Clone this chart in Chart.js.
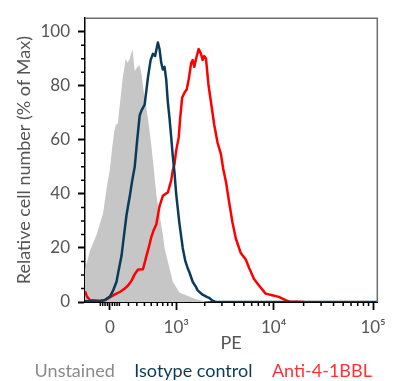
<!DOCTYPE html>
<html>
<head>
<meta charset="utf-8">
<script src="https://cdn.jsdelivr.net/npm/chart.js@4.4.0/dist/chart.umd.min.js"></script>
<style>
  html, body { margin: 0; padding: 0; background: #fff; }
</style>
</head>
<body>
<canvas id="chart" width="393" height="381"></canvas>
<script>
// PE axis is biexponential. x values below are display units on that axis
// (0 = zero signal, 1 unit = 1 decade at the high end).
const seriesNames = ['Unstained', 'Isotype control', 'Anti-4-1BBL']

const unstainedX = [-0.25, -0.2, -0.133, -0.067, -0.033, 0, 0.02, 0.043, 0.06, 0.08, 0.1, 0.13, 0.16, 0.18, 0.2, 0.227, 0.25, 0.277, 0.3, 0.32, 0.34, 0.367, 0.39, 0.417, 0.44, 0.467, 0.5, 0.533, 0.55, 0.583, 0.633, 0.7, 0.767, 0.85, 0.95, 1.05, 2.69]
const unstainedY = [12, 19, 25, 33, 42, 49, 56, 63, 65.5, 66, 73, 83, 90, 88.5, 90, 93.6, 85.5, 87, 87.6, 84, 78, 72, 66, 58, 50, 40, 32, 25, 20, 15, 7.5, 3.5, 2.5, 1.2, 0.3, 0, 0]

const isotypeX = [-0.25, -0.15, -0.1, -0.05, 0, 0.03, 0.067, 0.09, 0.117, 0.14, 0.167, 0.185, 0.2, 0.225, 0.25, 0.275, 0.3, 0.32, 0.35, 0.383, 0.41, 0.433, 0.455, 0.483, 0.5, 0.517, 0.533, 0.55, 0.567, 0.583, 0.6, 0.617, 0.633, 0.65, 0.667, 0.7, 0.733, 0.76, 0.783, 0.8, 0.833, 0.867, 0.883, 0.933, 0.98, 1.0, 1.033, 1.06, 1.2, 2.69]
const isotypeY = [0.3, 0.2, 0.3, 0.7, 2, 4, 7.5, 12, 17, 24, 32, 36, 39, 45, 50, 60, 69, 71, 73, 83, 89.5, 91.8, 91, 96, 93.5, 88.5, 86, 87, 82.3, 74, 68, 61, 54, 48, 40, 29, 20, 15, 12.5, 11, 7.5, 5.5, 4.3, 2.7, 1.8, 1.5, 0.5, 0.1, 0, 0]

const antiX = [-0.25, -0.23, -0.2, -0.1, -0.05, 0, 0.05, 0.1, 0.15, 0.183, 0.22, 0.25, 0.283, 0.333, 0.367, 0.39, 0.417, 0.44, 0.467, 0.5, 0.533, 0.56, 0.583, 0.617, 0.633, 0.65, 0.667, 0.693, 0.707, 0.727, 0.75, 0.773, 0.793, 0.817, 0.833, 0.85, 0.867, 0.893, 0.917, 0.933, 0.95, 0.967, 0.993, 1.017, 1.05, 1.083, 1.117, 1.14, 1.17, 1.195, 1.233, 1.267, 1.317, 1.367, 1.4, 1.45, 1.5, 1.567, 1.633, 1.7, 1.767, 1.8, 1.95]
const antiY = [4, 2, 0.7, 0.5, 0.7, 1.7, 2.8, 3.7, 5, 6.1, 8, 10.3, 12, 12.1, 16.9, 20, 24, 26.5, 28.7, 35.5, 39.3, 40, 40.5, 45, 48.7, 51, 56, 61, 67.9, 75.6, 77.4, 78.6, 82.3, 88.2, 89.5, 87, 90, 93.6, 91.8, 89.5, 91, 90, 80, 74, 65.5, 59, 54.7, 49.3, 44, 38, 29.5, 23.5, 18.1, 15.7, 12.7, 8.5, 6.1, 3.1, 2.5, 1.9, 0.7, 0.2, 0]

// axis ticks, in PE units
const majorTicksPE = [0, 1000, 10000, 100000]
const majorTickLabels = ['0', '10³', '10⁴', '10⁵']
const minorTicksPE = [-100, -75, -50, -25, 25, 50, 75, 100, 200, 300, 400, 500, 600, 700, 800, 900,
  2000, 3000, 4000, 5000, 6000, 7000, 8000, 9000, 20000, 30000, 40000, 50000, 60000, 70000, 80000, 90000]
const yTicks = [0, 20, 40, 60, 80, 100]
const yMinorTicks = [5, 10, 15, 25, 30, 35, 45, 50, 55, 65, 70, 75, 85, 90, 95]

const seriesColors = ['#c6c6c6', '#0b3b5c', '#ff0000']
const legendColors = ['#8a8a8a', '#0b3b5c', '#ff3333']

const biex = v => Math.asinh(v / 450) / Math.LN10

const toPoints = (xs, ys) => xs.map((x, i) => ({ x, y: ys[i] }))

const tickFont = { family: 'Lato', size: 17 }

// top/right frame and the short minor ticks
const frameAndMinorTicks = {
  id: 'frameAndMinorTicks',
  afterDraw(chart) {
    const { ctx, chartArea: a, scales: { x, y } } = chart
    ctx.save()
    ctx.strokeStyle = '#6e6e6e'
    ctx.lineWidth = 1.5
    ctx.beginPath()
    ctx.moveTo(a.left, a.top)
    ctx.lineTo(a.right, a.top)
    ctx.lineTo(a.right, a.bottom)
    ctx.stroke()

    ctx.strokeStyle = '#000'
    ctx.lineWidth = 1.5
    ctx.beginPath()
    minorTicksPE.forEach(v => {
      const px = x.getPixelForValue(biex(v))
      if (px < a.left || px > a.right) return
      ctx.moveTo(px, a.bottom)
      ctx.lineTo(px, a.bottom + 4)
    })
    yMinorTicks.forEach(v => {
      const py = y.getPixelForValue(v)
      ctx.moveTo(a.left, py)
      ctx.lineTo(a.left - 4, py)
    })
    ctx.stroke()
    ctx.restore()
  }
}

const chart = new Chart(document.getElementById('chart'), {
  type: 'line',
  data: {
    datasets: [
      {
        label: seriesNames[0],
        data: toPoints(unstainedX, unstainedY),
        backgroundColor: seriesColors[0],
        borderColor: seriesColors[0],
        borderWidth: 0,
        fill: 'origin',
        order: 3,
      },
      {
        label: seriesNames[1],
        data: toPoints(isotypeX, isotypeY),
        borderColor: seriesColors[1],
        borderWidth: 2.5,
        fill: false,
        order: 1,
      },
      {
        label: seriesNames[2],
        data: toPoints(antiX, antiY),
        borderColor: seriesColors[2],
        borderWidth: 2.5,
        fill: false,
        order: 2,
      }
    ]
  },
  options: {
    responsive: false,
    animation: false,
    devicePixelRatio: 1,
    layout: { padding: { top: 10, right: 14, left: 10, bottom: -9 } },
    elements: {
      point: { radius: 0, hitRadius: 0 },
      line: { tension: 0, borderJoinStyle: 'round' }
    },
    plugins: {
      tooltip: { enabled: false },
      legend: {
        position: 'bottom',
        align: 'center',
        labels: {
          font: { family: 'Lato', size: 18 },
          boxWidth: 8.5,
          boxHeight: 0,
          padding: 2,
          generateLabels: (chart) => chart.data.datasets.map((ds, i) => ({
            text: ds.label,
            fontColor: legendColors[i],
            fillStyle: 'rgba(0,0,0,0)',
            strokeStyle: 'rgba(0,0,0,0)',
            lineWidth: 0,
            hidden: false,
            datasetIndex: i
          }))
        }
      }
    },
    scales: {
      x: {
        type: 'linear',
        min: -0.25,
        max: 2.69,
        afterBuildTicks: (scale) => {
          scale.ticks = majorTicksPE.map(v => ({ value: biex(v) }))
        },
        afterFit: (scale) => { scale.height = 58 },
        ticks: {
          autoSkip: false,
          maxRotation: 0,
          padding: 7,
          color: '#555',
          font: tickFont,
          callback: (value, index) => majorTickLabels[index]
        },
        grid: { drawOnChartArea: false, tickLength: 8, tickWidth: 1.8, tickColor: '#000' },
        border: { color: '#000', width: 2 },
        title: {
          display: true,
          text: 'PE',
          color: '#555',
          font: { family: 'Lato', size: 18 },
          padding: { top: 0, bottom: 6 }
        }
      },
      y: {
        min: 0,
        max: 105,
        afterBuildTicks: (scale) => {
          scale.ticks = yTicks.map(v => ({ value: v }))
        },
        afterFit: (scale) => { scale.width = 75 },
        ticks: {
          padding: 8,
          color: '#555',
          font: tickFont
        },
        grid: { drawOnChartArea: false, tickLength: 7, tickWidth: 2, tickColor: '#000' },
        border: { color: '#000', width: 1.5 },
        title: {
          display: true,
          text: 'Relative cell number (% of Max)',
          color: '#555',
          font: { family: 'Lato', size: 18 },
          padding: { top: 3, bottom: 0 }
        }
      }
    }
  },
  plugins: [frameAndMinorTicks]
})
</script>
</body>
</html>
